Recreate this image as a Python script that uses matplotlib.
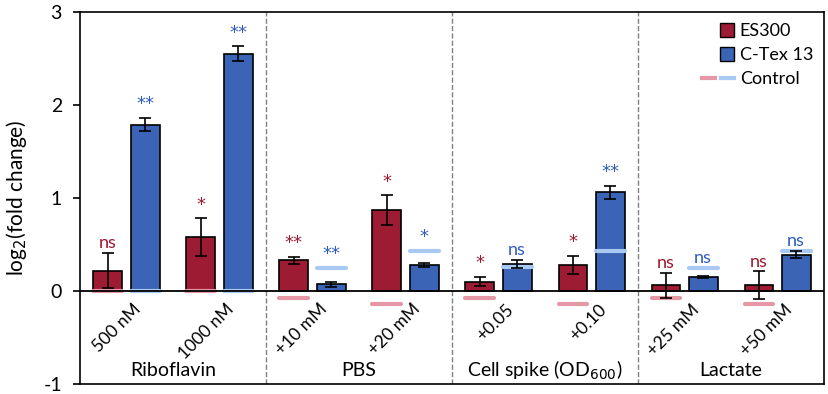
import matplotlib.pyplot as plt
from matplotlib.patches import Patch, Rectangle
from matplotlib.lines import Line2D
from matplotlib.legend_handler import HandlerTuple, HandlerPatch

plt.rcParams['font.family'] = ['Lato', 'DejaVu Sans']
plt.rcParams['axes.unicode_minus'] = False

# datos
grupos = ["Riboflavin", "PBS", "Cell spike (OD$_{600}$)", "Lactate"]
condiciones = ["500 nM", "1000 nM", "+10 mM", "+20 mM", "+0.05", "+0.10", "+25 mM", "+50 mM"]
es_val = [0.22, 0.58, 0.33, 0.87, 0.10, 0.28, 0.06, 0.06]
es_err = [0.19, 0.20, 0.04, 0.16, 0.05, 0.10, 0.13, 0.15]
ct_val = [1.79, 2.55, 0.07, 0.28, 0.29, 1.06, 0.15, 0.39]
ct_err = [0.07, 0.08, 0.03, 0.02, 0.04, 0.07, 0.01, 0.04]
es_ctrl = [0.0, 0.0, -0.07, -0.14, -0.07, -0.14, -0.07, -0.14]
ct_ctrl = [0.0, 0.0, 0.25, 0.435, 0.26, 0.435, 0.25, 0.435]
es_sig = ["ns", "*", "**", "*", "*", "*", "ns", "ns"]
ct_sig = ["**", "**", "**", "*", "ns", "**", "ns", "ns"]

rojo = "#9E1B34"
azul = "#3B63B6"
rosa = "#E597A6"
celeste = "#A9C8F2"
txt_rojo = "#A0182F"
txt_azul = "#2E5BBE"

fig = plt.figure(figsize=(8.29, 3.94), dpi=100)
ax = fig.add_axes([0.0965, 0.0254, 0.8975, 0.944])

ancho = 0.155
centros = [g + p for g in range(len(grupos)) for p in (0.25, 0.75)]
x_es = [c - 0.1 for c in centros]
x_ct = [c + 0.1 for c in centros]

ax.bar(x_es, es_val, ancho, color=rojo, edgecolor="black", linewidth=1.2, zorder=2)
ax.bar(x_ct, ct_val, ancho, color=azul, edgecolor="black", linewidth=1.2, zorder=2)
ax.errorbar(x_es, es_val, yerr=es_err, fmt="none", ecolor="black", elinewidth=1.2, capsize=4, capthick=1.2, zorder=5)
ax.errorbar(x_ct, ct_val, yerr=ct_err, fmt="none", ecolor="black", elinewidth=1.2, capsize=4, capthick=1.2, zorder=5)

# lineas de control
for i in range(len(condiciones)):
    ax.plot([x_es[i] - ancho / 2, x_es[i] + ancho / 2], [es_ctrl[i], es_ctrl[i]],
            color=rosa, lw=3, solid_capstyle="round", zorder=3)
    ax.plot([x_ct[i] - ancho / 2, x_ct[i] + ancho / 2], [ct_ctrl[i], ct_ctrl[i]],
            color=celeste, lw=3, solid_capstyle="round", zorder=3)

# marcas de significancia
def marca(x, y, s, color):
    if s == "ns":
        ax.text(x, y + 0.02, s, color=color, ha="center", va="bottom", fontsize=13)
    else:
        ax.text(x, y + 0.05, s, color=color, ha="center", va="bottom", fontsize=13,
                family="DejaVu Sans")

for i in range(len(condiciones)):
    marca(x_es[i], max(es_val[i] + es_err[i], es_ctrl[i]), es_sig[i], txt_rojo)
    marca(x_ct[i], max(ct_val[i] + ct_err[i], ct_ctrl[i]), ct_sig[i], txt_azul)

# etiquetas de condiciones y grupos
for i, c in enumerate(centros):
    ax.text(c + 0.065, -0.17, condiciones[i], rotation=45, rotation_mode="anchor",
            ha="right", va="center", fontsize=12.5)
for g, nombre in enumerate(grupos):
    ax.text(g + 0.5, -0.85, nombre, ha="center", va="center", fontsize=14)

for g in range(1, len(grupos)):
    ax.axvline(g, color="grey", ls="--", lw=1, zorder=1)
ax.axhline(0, color="black", lw=1.3, zorder=4)

ax.set_xlim(0, 4)
ax.set_ylim(-1, 3)
ax.set_xticks([])
ax.set_yticks([-1, 0, 1, 2, 3])
ax.tick_params(axis="y", labelsize=14, direction="out", length=5, width=1.2, pad=8)
ax.set_ylabel("log$_2$(fold change)", fontsize=15, labelpad=10)
for s in ax.spines.values():
    s.set_linewidth(1.2)


def cuadrado(legend, orig_handle, xdescent, ydescent, width, height, fontsize):
    lado = height * 1.1
    return Rectangle((-xdescent + width - lado, -ydescent + (height - lado) / 2), lado, lado)


h_es = Patch(facecolor=rojo, edgecolor="black", label="ES300")
h_ct = Patch(facecolor=azul, edgecolor="black", label="C-Tex 13")
h_ctrl = (Line2D([], [], color=rosa, lw=3), Line2D([], [], color=celeste, lw=3))
ax.legend([h_es, h_ct, h_ctrl], ["ES300", "C-Tex 13", "Control"],
          handler_map={tuple: HandlerTuple(ndivide=None, pad=0.3),
                       Patch: HandlerPatch(patch_func=cuadrado)},
          loc="upper right", frameon=False, fontsize=13, handlelength=1.8,
          handletextpad=0.3, borderaxespad=0.2, labelspacing=0.45)

fig.savefig("out.png", dpi=100)
